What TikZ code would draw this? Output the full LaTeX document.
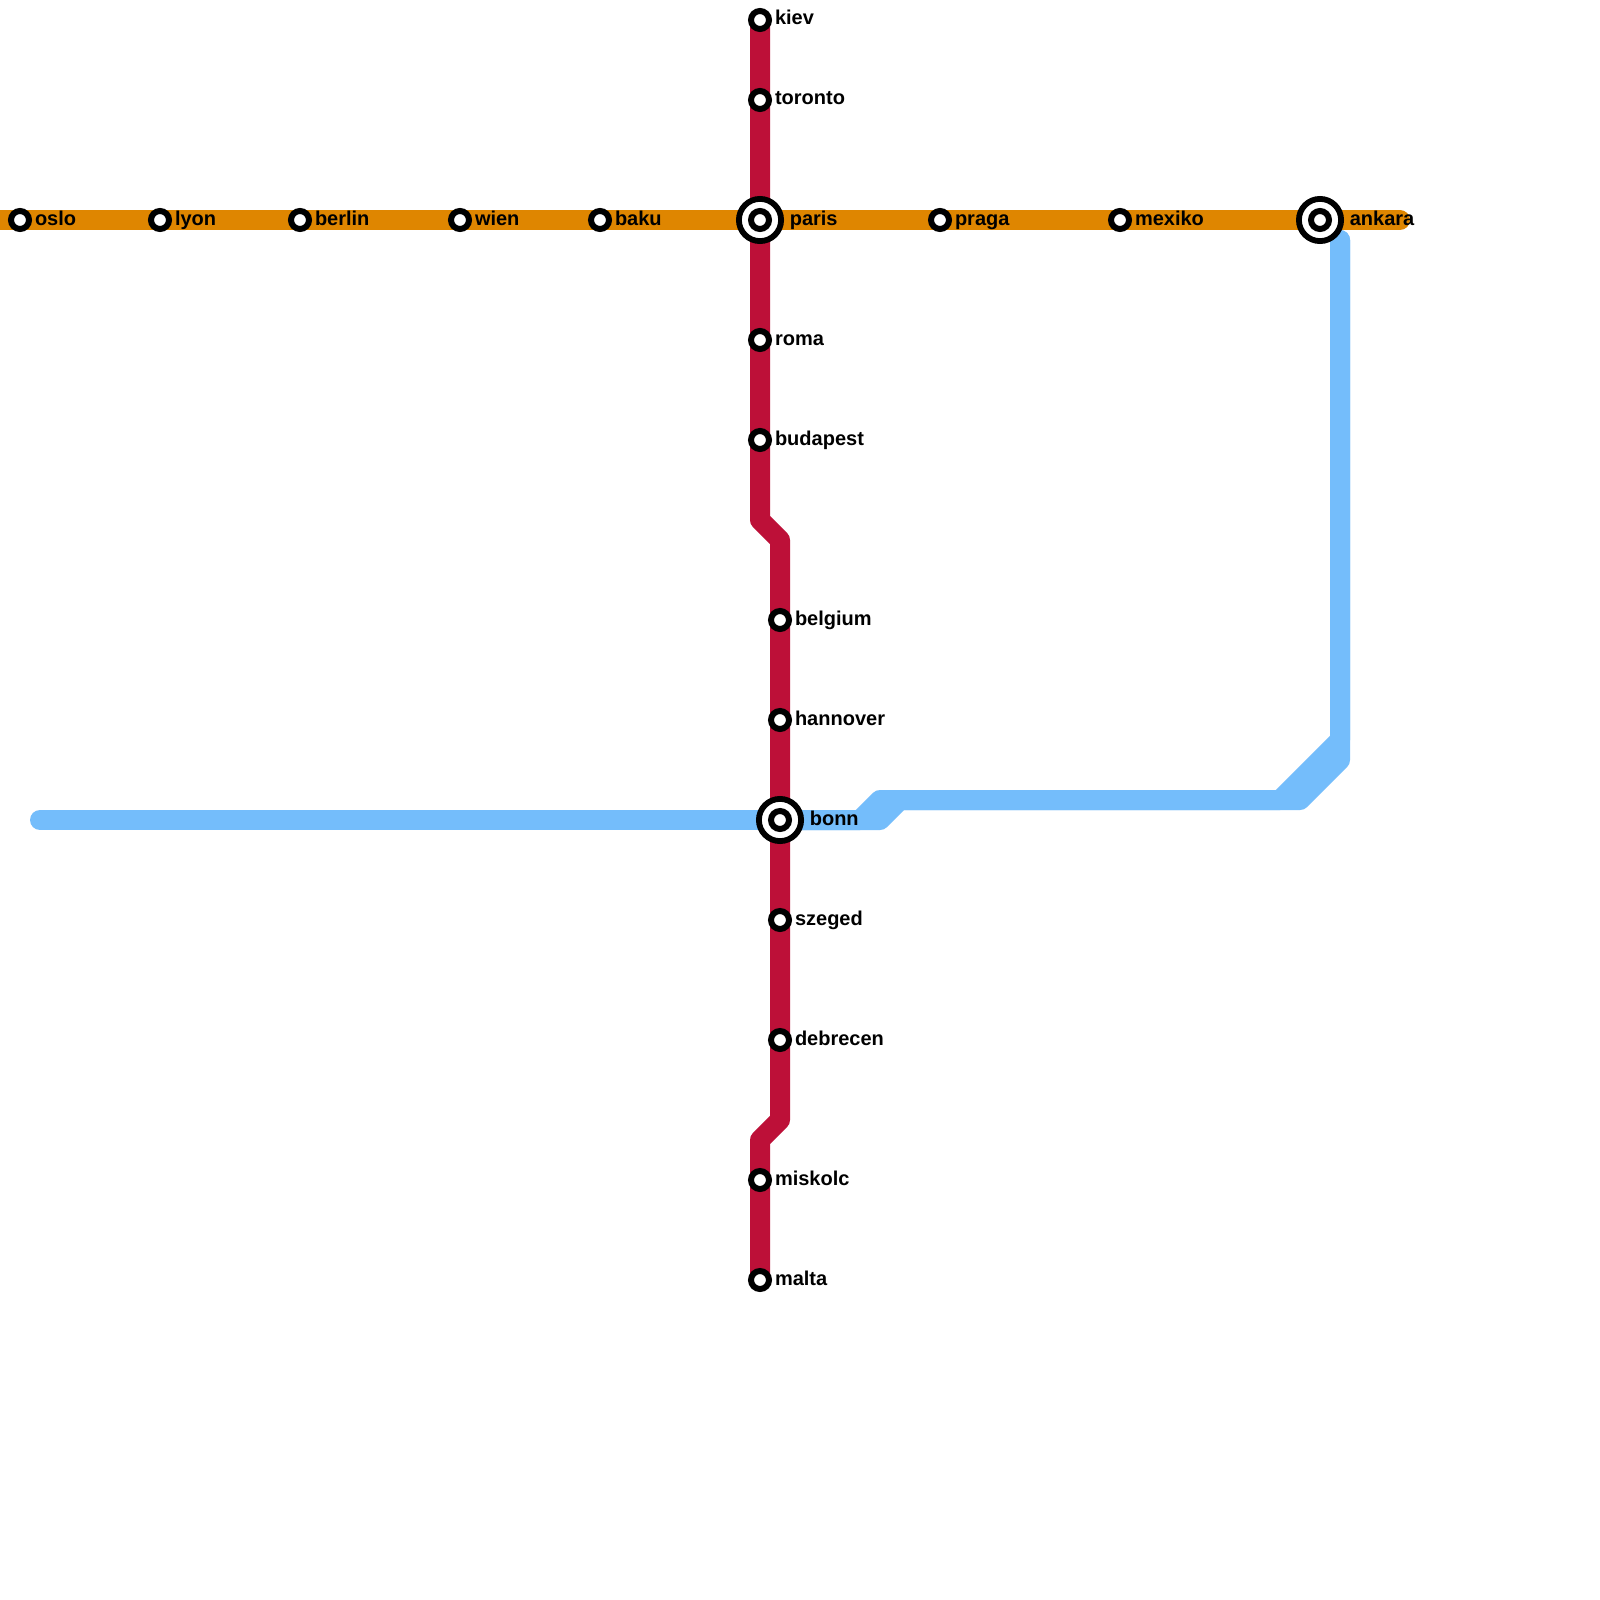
\documentclass[tikz,border=0pt]{standalone}
\usepackage{fontspec}
\setmainfont{Liberation Sans}
\definecolor{lineorange}{HTML}{DF8600}
\definecolor{linered}{HTML}{BD1038}
\definecolor{lineblue}{HTML}{74BDFB}
\tikzset{
  metro/.style={line width=20pt,line cap=round,line join=round},
  stop/.style={circle,draw=black,fill=white,line width=6pt,minimum size=18pt,inner sep=0pt,outer sep=0pt},
  hubouter/.style={circle,draw=black,fill=white,line width=5.8pt,minimum size=42.2pt,inner sep=0pt,outer sep=0pt},
  stationname/.style={anchor=base west,inner sep=0pt,font=\bfseries\fontsize{20pt}{24pt}\selectfont,text=black}
}
\newcommand{\stopat}[3]{%
  \node[stop] (#1) at (#2) {};
  \node[stationname] (#1-name) at ([xshift=14.8pt,yshift=-5pt]#2) {#3};}
\newcommand{\hubat}[3]{%
  \node[hubouter] (#1-ring) at (#2) {};
  \node[stop] (#1) at (#2) {};
  \node[stationname] (#1-name) at ([xshift=29.6pt,yshift=-5pt]#2) {#3};}
\begin{document}
\begin{tikzpicture}[x=1pt,y=-1pt]
\useasboundingbox (0,0) rectangle (1600,1600);
\fill[white] (0,0) rectangle (1600,1600);
\clip (0,0) rectangle (1600,1600);
% station positions
\coordinate (poslo) at (20,220);
\coordinate (plyon) at (160,220);
\coordinate (pberlin) at (300,220);
\coordinate (pwien) at (460,220);
\coordinate (pbaku) at (600,220);
\coordinate (pparis) at (760,220);
\coordinate (ppraga) at (940,220);
\coordinate (pmexiko) at (1120,220);
\coordinate (pankara) at (1320,220);
\coordinate (pkiev) at (760,20);
\coordinate (ptoronto) at (760,100);
\coordinate (proma) at (760,340);
\coordinate (pbudapest) at (760,440);
\coordinate (pbelgium) at (780,620);
\coordinate (phannover) at (780,720);
\coordinate (pbonn) at (780,820);
\coordinate (pszeged) at (780,920);
\coordinate (pdebrecen) at (780,1040);
\coordinate (pmiskolc) at (760,1180);
\coordinate (pmalta) at (760,1280);
% free line ends and bends
\coordinate (owest) at (-12,220);
\coordinate (oeast) at (1400,220);
\coordinate (r1) at (760,520);
\coordinate (r2) at (780,540);
\coordinate (r3) at (780,1120);
\coordinate (r4) at (760,1140);
\coordinate (bwest) at (40,820);
\coordinate (b1) at (860,820);
\coordinate (b2) at (880,800);
\coordinate (b3) at (1280,800);
\coordinate (b4) at (1340,740);
\coordinate (btop) at (1340,240);
\coordinate (c1) at (880,820);
\coordinate (c2) at (900,800);
\coordinate (c3) at (1300,800);
\coordinate (c4) at (1340,760);
% lines
\draw[metro,lineorange] (owest) -- (oeast);
\draw[metro,linered] (pkiev) -- (r1) -- (r2) -- (r3) -- (r4) -- (pmalta);
\draw[metro,lineblue] (bwest) -- (pbonn);
\draw[metro,lineblue] (btop) -- (b4) -- (b3) -- (b2) -- (b1) -- (pbonn);
\draw[metro,lineblue] (btop) -- (c4) -- (c3) -- (c2) -- (c1) -- (pbonn);
% stations
\stopat{oslo}{poslo}{oslo}
\stopat{lyon}{plyon}{lyon}
\stopat{berlin}{pberlin}{berlin}
\stopat{wien}{pwien}{wien}
\stopat{baku}{pbaku}{baku}
\hubat{paris}{pparis}{paris}
\stopat{praga}{ppraga}{praga}
\stopat{mexiko}{pmexiko}{mexiko}
\hubat{ankara}{pankara}{ankara}
\stopat{kiev}{pkiev}{kiev}
\stopat{toronto}{ptoronto}{toronto}
\stopat{roma}{proma}{roma}
\stopat{budapest}{pbudapest}{budapest}
\stopat{belgium}{pbelgium}{belgium}
\stopat{hannover}{phannover}{hannover}
\hubat{bonn}{pbonn}{bonn}
\stopat{szeged}{pszeged}{szeged}
\stopat{debrecen}{pdebrecen}{debrecen}
\stopat{miskolc}{pmiskolc}{miskolc}
\stopat{malta}{pmalta}{malta}
\end{tikzpicture}
\end{document}
